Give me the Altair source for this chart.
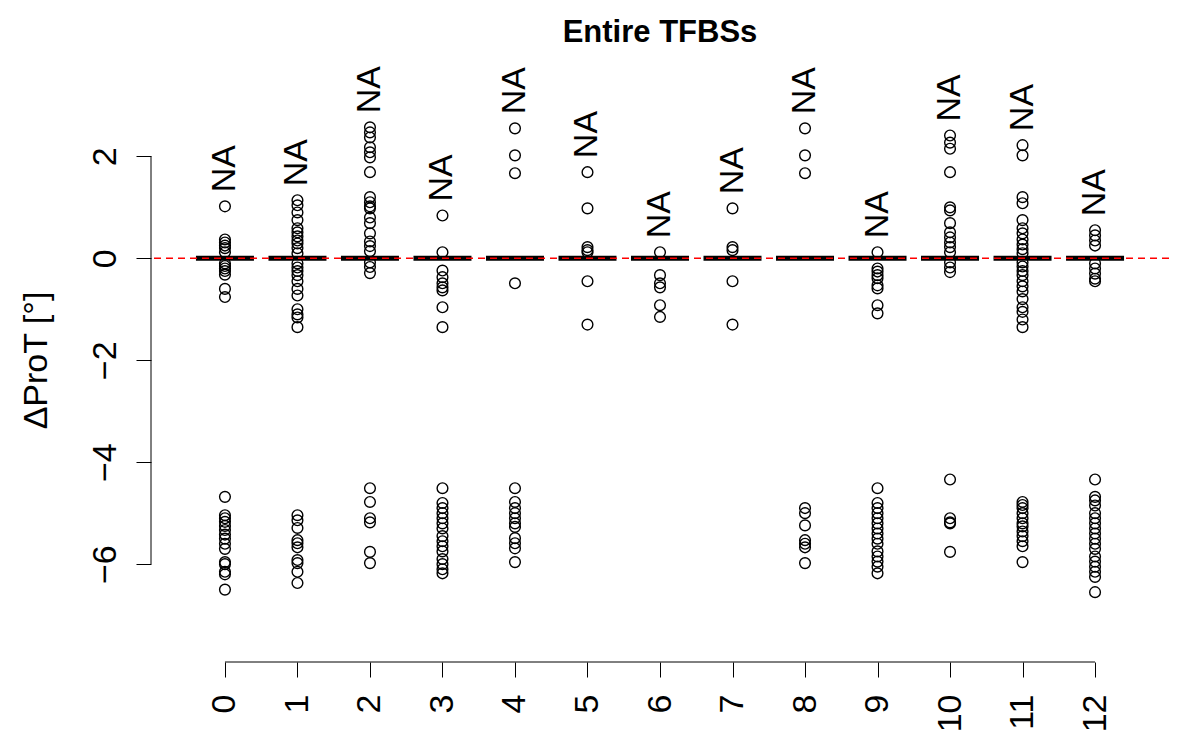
import altair as alt
import pandas as pd

# ---------------- data ----------------
GROUPS = [0, 1, 2, 3, 4, 5, 6, 7, 8, 9, 10, 11, 12]

G0 = [1.02, 0.37, 0.31, 0.25, 0.2, 0.12, -0.1, -0.15, -0.2, -0.25, -0.32, -0.6, -0.76,
      -4.68, -5.04, -5.1, -5.17, -5.25, -5.33, -5.42, -5.5, -5.6, -5.7, -5.96, -6.0, -6.15, -6.2, -6.5]
G1 = [1.14, 1.04, 0.9, 0.75, 0.59, 0.51, 0.43, 0.35, 0.29, 0.2, 0.1, -0.1, -0.18, -0.25, -0.33,
      -0.45, -0.6, -0.73, -1.0, -1.1, -1.16, -1.35,
      -5.04, -5.14, -5.29, -5.53, -5.59, -5.67, -5.92, -5.98, -6.15, -6.37]
G2 = [2.57, 2.47, 2.37, 2.18, 2.08, 1.98, 1.69, 1.2, 1.1, 1.02, 0.98, 0.8, 0.69, 0.49, 0.33,
      0.24, 0.14, -0.08, -0.17, -0.29, -4.51, -4.78, -5.1, -5.18, -5.76, -5.98]
G3 = [0.84, 0.12, -0.24, -0.37, -0.49, -0.57, -0.63, -0.96, -1.35,
      -4.51, -4.8, -4.9, -5.0, -5.1, -5.2, -5.3, -5.45, -5.55, -5.65, -5.75, -5.9, -6.0, -6.1, -6.18]
G4 = [2.55, 2.02, 1.67, -0.49, -4.51, -4.78, -4.9, -5.0, -5.1, -5.2, -5.27, -5.49, -5.59, -5.69, -5.96]
G5 = [1.69, 0.98, 0.22, 0.16, 0.12, -0.45, -1.3]
G6 = [0.12, -0.33, -0.49, -0.57, -0.92, -1.15]
G7 = [0.98, 0.22, 0.16, -0.45, -1.3]
G8 = [2.55, 2.02, 1.67, -4.9, -5.0, -5.24, -5.53, -5.6, -5.67, -5.98]
G9 = [0.12, -0.2, -0.26, -0.33, -0.39, -0.53, -0.59, -0.92, -1.08,
      -4.51, -4.8, -4.9, -5.0, -5.1, -5.2, -5.3, -5.4, -5.5, -5.6, -5.75, -5.85, -5.95, -6.05, -6.18]
G10 = [2.41, 2.27, 2.15, 1.69, 1.0, 0.94, 0.69, 0.51, 0.41, 0.31, 0.22, 0.12, -0.08, -0.18, -0.27,
       -4.34, -5.1, -5.18, -5.2, -5.76]
G11 = [2.22, 2.02, 1.2, 1.08, 0.75, 0.59, 0.49, 0.37, 0.27, 0.18, 0.1, -0.08, -0.16, -0.25, -0.33,
       -0.45, -0.55, -0.65, -0.8, -0.96, -1.05, -1.2, -1.35,
       -4.78, -4.84, -4.9, -5.0, -5.1, -5.2, -5.26, -5.36, -5.45, -5.55, -5.65, -5.96]
G12 = [0.55, 0.45, 0.35, 0.25, -0.1, -0.2, -0.3, -0.4, -0.45,
       -4.34, -4.68, -4.75, -4.85, -5.0, -5.1, -5.2, -5.3, -5.4, -5.5, -5.6, -5.7, -5.85,
       -5.95, -6.05, -6.15, -6.25, -6.55]

OUTLIERS = [G0, G1, G2, G3, G4, G5, G6, G7, G8, G9, G10, G11, G12]
MEDIANS = [0, 0, 0, 0, 0, 0, 0, 0, 0, 0, 0, 0, 0]
REF_LINE = [0]
Y_TICKS = [-6, -4, -2, 0, 2]
NA_TEXT = "NA"
TITLE = "Entire TFBSs"
Y_TITLE = "\u0394ProT [\u00b0]"
BOX_WIDTH = 0.8

X_DOMAIN = [-1.02, 13.02]
Y_DOMAIN = [-7.92, 3.42]

# ---------------- tables ----------------
pts = pd.DataFrame(
    [{"group": g, "value": v} for g, vals in zip(GROUPS, OUTLIERS) for v in vals]
)
boxes = pd.DataFrame({"group": GROUPS, "value": MEDIANS})
boxes["lo"] = boxes["group"] - BOX_WIDTH / 2
boxes["hi"] = boxes["group"] + BOX_WIDTH / 2
xline = pd.DataFrame({"group": [min(GROUPS)], "group2": [max(GROUPS)]})
yline = pd.DataFrame({"value": [min(Y_TICKS)], "value2": [max(Y_TICKS)]})
ref = pd.DataFrame({"value": REF_LINE})

W, H = 1018, 578
FONT = "Liberation Sans"

xs = alt.Scale(domain=X_DOMAIN, nice=False, zero=False)
ys = alt.Scale(domain=Y_DOMAIN, nice=False, zero=False)

X_AXIS = alt.Axis(values=GROUPS, domain=False, grid=False, tickSize=15, tickColor="black",
                  tickWidth=1, labelAngle=270, labelAlign="right", labelBaseline="middle",
                  labelPadding=17, labelFontSize=34, labelFont=FONT, labelColor="black",
                  labelFlush=False, labelOverlap=False, format="d", title=None)
Y_AXIS = alt.Axis(values=Y_TICKS, domain=False, grid=False, tickSize=15, tickColor="black",
                  tickWidth=1, labelAngle=270, labelAlign="center", labelBaseline="alphabetic",
                  labelPadding=21, labelFontSize=34, labelFont=FONT, labelColor="black",
                  labelFlush=False, labelOverlap=False, format="d",
                  title=Y_TITLE, titleFont=FONT, titleFontSize=34, titleFontWeight="normal",
                  titleColor="black", titleAngle=270, titleX=-105, titleY=276,
                  titleAlign="center", titleBaseline="alphabetic")


def X(field):
    return alt.X(field, type="quantitative", scale=xs, axis=X_AXIS)


def Y(field):
    return alt.Y(field, type="quantitative", scale=ys, axis=Y_AXIS)


x_axis_line = alt.Chart(xline).mark_rule(color="black", strokeWidth=1).encode(
    x=X("group"), x2="group2", y=alt.value(H)
)
y_axis_line = alt.Chart(yline).mark_rule(color="black", strokeWidth=1).encode(
    y=Y("value"), y2="value2", x=alt.value(0)
)

box_lines = alt.Chart(boxes).mark_rule(color="black", strokeWidth=5, strokeCap="butt").encode(
    x=X("lo"), x2="hi", y=Y("value")
)

points = alt.Chart(pts).mark_point(shape="circle", filled=False, color="black",
                                   strokeWidth=1.4, size=115, opacity=1).encode(
    x=X("group"), y=Y("value")
)

ref_line = alt.Chart(ref).mark_rule(color="#FF0000", strokeWidth=1.5,
                                    strokeDash=[7, 5]).encode(y=Y("value"))

na_text = alt.Chart(pts).transform_aggregate(
    top="max(value)", groupby=["group"]
).mark_text(text=NA_TEXT, angle=270, align="left", baseline="middle", dx=14,
            fontSize=34, font=FONT, color="black").encode(
    x=X("group"), y=Y("top")
)

chart = alt.layer(
    x_axis_line, y_axis_line, box_lines, points, ref_line, na_text
).properties(
    width=W, height=H,
    title=alt.TitleParams(TITLE, fontSize=31, fontWeight="bold", font=FONT, anchor="middle",
                          offset=-7, baseline="alphabetic", color="black"),
    autosize=alt.AutoSizeParams(type="none"),
    padding={"left": 143, "top": 76, "right": 23, "bottom": 82},
    background="white",
).configure_view(stroke=None)

chart.save("out.html", embed_options={"renderer": "svg", "actions": False})
